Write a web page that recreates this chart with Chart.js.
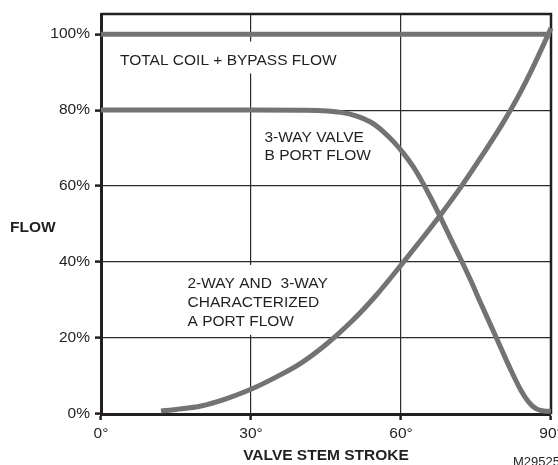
<!DOCTYPE html>
<html>
<head>
<meta charset="utf-8">
<script src="https://cdn.jsdelivr.net/npm/chart.js@4.4.0/dist/chart.umd.min.js"></script>
<style>
  html, body { margin: 0; padding: 0; background: #fff; }
  canvas { display: block; }
</style>
</head>
<body>
<canvas id="chart" width="558" height="465"></canvas>
<script>
// valve stem stroke (degrees) vs flow (%)
const totalDeg = [0, 90];
const totalFlow = [100, 100];

const bPortDeg = [0, 30, 40, 44, 48, 51, 54, 56.5, 58.5, 60.5, 62.5, 64, 66, 68, 70, 72, 74, 76, 78, 80, 82, 84, 85.5, 87, 88.5, 90];
const bPortFlow = [80, 80, 79.95, 79.85, 79.4, 78.5, 76.8, 74.3, 71.7, 68.6, 65, 61.7, 56.8, 51.5, 46, 40.6, 35, 29, 23.2, 17.3, 11.5, 6.2, 3.2, 1.4, 0.8, 0.7];

const aPortDeg = [12, 15, 20, 25, 30, 35, 40, 45, 50, 55, 60, 64, 68, 72, 76, 80, 82, 84, 86, 88, 90];
const aPortFlow = [0.8, 1.2, 2.1, 4, 6.5, 9.7, 13.4, 18.3, 24.2, 31.2, 39.2, 45.8, 52.6, 59.8, 67.6, 75.8, 80.2, 85, 90.2, 95.8, 101.6];

const xTicks = [0, 30, 60, 90];
const yTicks = [0, 20, 40, 60, 80, 100];

const totalNote = ["TOTAL COIL + BYPASS FLOW"];
const bPortNote = ["3-WAY VALVE", "B PORT FLOW"];
const aPortNote = ["2-WAY AND  3-WAY", "CHARACTERIZED", "A PORT FLOW"];
const yTitle = "FLOW";
const xTitle = "VALVE STEM STROKE";
const figureId = "M29525";

const INK = "#231f20";
const CURVE = "#737374";
const FONT = "'Liberation Sans', Arial, Helvetica, sans-serif";

Chart.defaults.font.family = FONT;
Chart.defaults.font.size = 15.5;
Chart.defaults.color = INK;

function toPoints(xs, ys) {
  return xs.map((x, i) => ({ x: x, y: ys[i] }));
}

function drawNote(ctx, lines, left, baseline, step, knockout) {
  if (knockout) {
    const w = Math.max(...lines.map(t => ctx.measureText(t).width));
    ctx.fillStyle = "#fff";
    ctx.fillRect(left - 4, baseline - 23, w + 8, step * (lines.length - 1) + 32);
  }
  ctx.fillStyle = INK;
  lines.forEach((t, i) => ctx.fillText(t, left, baseline + i * step));
}

const decorations = {
  id: "decorations",
  beforeDatasetsDraw(chart) {
    const { ctx, chartArea: a, scales: { x, y } } = chart;
    ctx.save();
    ctx.font = "15.5px " + FONT;
    ctx.textAlign = "left";
    ctx.textBaseline = "alphabetic";
    drawNote(ctx, totalNote, x.getPixelForValue(3.8), y.getPixelForValue(92), 19, true);
    drawNote(ctx, bPortNote, x.getPixelForValue(32.7), y.getPixelForValue(71.7), 18.5, false);
    drawNote(ctx, aPortNote, x.getPixelForValue(17.3), y.getPixelForValue(33.2), 19, true);

    // top and right edges of the frame
    ctx.strokeStyle = INK;
    ctx.lineWidth = 2.5;
    ctx.beginPath();
    ctx.moveTo(a.left, a.top);
    ctx.lineTo(a.right, a.top);
    ctx.lineTo(a.right, a.bottom);
    ctx.stroke();
    ctx.restore();
  },
  afterDraw(chart) {
    const { ctx, chartArea: a, scales: { y } } = chart;
    ctx.save();
    ctx.fillStyle = INK;
    ctx.textAlign = "left";
    ctx.textBaseline = "middle";
    ctx.font = "bold 15.5px " + FONT;
    ctx.fillText(yTitle, a.left - 91, y.getPixelForValue(49));
    ctx.textBaseline = "alphabetic";
    ctx.font = "13px " + FONT;
    ctx.fillText(figureId, a.right - 38, chart.height + 1);
    ctx.restore();
  }
};

const lineStyle = {
  borderColor: CURVE,
  borderWidth: 5,
  pointRadius: 0,
  fill: false,
  cubicInterpolationMode: "monotone",
  borderCapStyle: "butt",
  borderJoinStyle: "round",
  clip: false
};

new Chart(document.getElementById("chart").getContext("2d"), {
  type: "line",
  data: {
    datasets: [
      Object.assign({ label: "Total coil + bypass", data: toPoints(totalDeg, totalFlow) }, lineStyle),
      Object.assign({ label: "B port", data: toPoints(bPortDeg, bPortFlow) }, lineStyle),
      Object.assign({ label: "A port", data: toPoints(aPortDeg, aPortFlow) }, lineStyle)
    ]
  },
  options: {
    responsive: false,
    animation: false,
    layout: { padding: { top: 14, right: 7, left: 0, bottom: 0 } },
    plugins: {
      legend: { display: false },
      tooltip: { enabled: false }
    },
    scales: {
      x: {
        type: "linear",
        min: 0,
        max: 90,
        afterBuildTicks: s => { s.ticks = xTicks.map(v => ({ value: v })); },
        afterFit: s => { s.height = 51; s.paddingLeft = 0; s.paddingRight = 0; },
        ticks: { callback: v => v + "°", padding: 4, maxRotation: 0, autoSkip: false, color: INK },
        grid: { color: "#2b2b2b", lineWidth: 1.2, tickLength: 6, tickWidth: 2.5, tickColor: INK },
        border: { display: true, color: INK, width: 3 },
        title: {
          display: true,
          text: xTitle,
          color: INK,
          font: { weight: "bold", size: 15.5 },
          padding: { top: 0, bottom: 0 }
        }
      },
      y: {
        type: "linear",
        min: 0,
        max: 105.3,
        afterBuildTicks: s => { s.ticks = yTicks.map(v => ({ value: v })); },
        afterFit: s => { s.width = 101; s.paddingTop = 0; s.paddingBottom = 0; },
        ticks: { callback: v => v + "%", padding: 5, color: INK },
        grid: { color: "#2b2b2b", lineWidth: 1.2, tickLength: 6, tickWidth: 2.5, tickColor: INK },
        border: { display: true, color: INK, width: 3 }
      }
    }
  },
  plugins: [decorations]
});
</script>
</body>
</html>
